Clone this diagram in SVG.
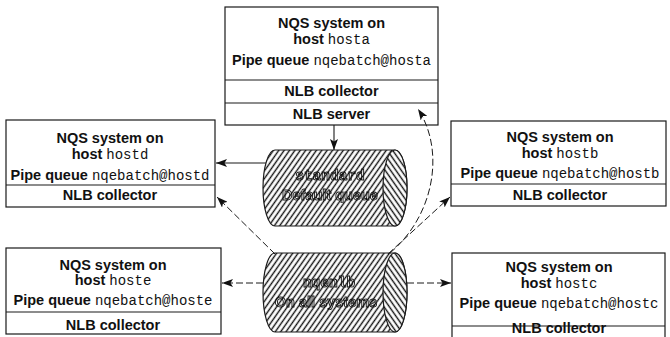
<svg xmlns="http://www.w3.org/2000/svg" width="670" height="337" viewBox="0 0 670 337">
  <style>
    .box { fill: #fff; stroke: #1a1a1a; stroke-width: 1.2; }
    .sep { stroke: #1a1a1a; stroke-width: 1.2; }
    .t { font-family: "Liberation Sans", Arial, sans-serif; font-weight: bold; font-size: 14.5px; fill: #111; text-anchor: middle; }
    .m { font-family: "Liberation Mono", "Courier New", monospace; font-weight: normal; font-size: 14px; }
    .q { font-size: 14.5px; fill: url(#hatchBody); stroke: #111; stroke-width: 0.9; text-anchor: middle; }
    .qs { font-family: "Liberation Sans", Arial, sans-serif; font-weight: bold; }
    .qm { font-family: "Liberation Mono", "Courier New", monospace; font-weight: bold; }
    .cyl { stroke: #1a1a1a; stroke-width: 1.2; }
    .solid { fill: none; stroke: #1a1a1a; stroke-width: 1.1; marker-end: url(#arrow); }
    .dash { fill: none; stroke: #1a1a1a; stroke-width: 1; stroke-dasharray: 7 3; marker-end: url(#arrow); }
  </style>
  <defs>
    <pattern id="hatchBody" width="4.4" height="10" patternUnits="userSpaceOnUse" patternTransform="rotate(35)">
      <rect width="4.4" height="10" fill="#fff"/>
      <line x1="2.2" y1="0" x2="2.2" y2="10" stroke="#111" stroke-width="1.4"/>
    </pattern>
    <pattern id="hatchCap" width="4.4" height="10" patternUnits="userSpaceOnUse" patternTransform="rotate(-35)">
      <rect width="4.4" height="10" fill="#fff"/>
      <line x1="2.2" y1="0" x2="2.2" y2="10" stroke="#111" stroke-width="1.4"/>
    </pattern>
    <!-- renders the outlined queue labels offscreen so they keep grey antialiasing -->
    <filter id="flat" x="0" y="0" width="1" height="1">
      <feOffset dx="0" dy="0"/>
    </filter>
    <marker id="arrow" markerWidth="12" markerHeight="8" refX="11" refY="4" orient="auto" markerUnits="userSpaceOnUse">
      <path d="M0,0 L11,4 L0,8 L2.5,4 Z" fill="#111"/>
    </marker>
  </defs>

  <!-- host a: NQS system with NLB collector and NLB server -->
  <g id="hosta">
    <rect class="box" x="225" y="7" width="213" height="118"/>
    <line class="sep" x1="225" y1="80" x2="438" y2="80"/>
    <line class="sep" x1="225" y1="103" x2="438" y2="103"/>
    <text class="t" x="331.5" y="28">NQS system on</text>
    <text class="t" x="331.5" y="44">host <tspan class="m">hosta</tspan></text>
    <text class="t" x="331.5" y="65">Pipe queue <tspan class="m">nqebatch@hosta</tspan></text>
    <text class="t" x="331.5" y="96">NLB collector</text>
    <text class="t" x="331.5" y="119">NLB server</text>
  </g>

  <!-- host d -->
  <g id="hostd">
    <rect class="box" x="6" y="120" width="209" height="87"/>
    <line class="sep" x1="6" y1="185" x2="215" y2="185"/>
    <text class="t" x="110" y="143">NQS system on</text>
    <text class="t" x="110" y="159">host <tspan class="m">hostd</tspan></text>
    <text class="t" x="110" y="180">Pipe queue <tspan class="m">nqebatch@hostd</tspan></text>
    <text class="t" x="110" y="200">NLB collector</text>
  </g>

  <!-- host b -->
  <g id="hostb">
    <rect class="box" x="451" y="121" width="215" height="85"/>
    <line class="sep" x1="451" y1="184" x2="666" y2="184"/>
    <text class="t" x="560" y="142">NQS system on</text>
    <text class="t" x="560" y="158">host <tspan class="m">hostb</tspan></text>
    <text class="t" x="560" y="178">Pipe queue <tspan class="m">nqebatch@hostb</tspan></text>
    <text class="t" x="560" y="200">NLB collector</text>
  </g>

  <!-- host e -->
  <g id="hoste">
    <rect class="box" x="6" y="248" width="215" height="86"/>
    <line class="sep" x1="6" y1="312" x2="221" y2="312"/>
    <text class="t" x="113" y="270">NQS system on</text>
    <text class="t" x="113" y="285">host <tspan class="m">hoste</tspan></text>
    <text class="t" x="113" y="305">Pipe queue <tspan class="m">nqebatch@hoste</tspan></text>
    <text class="t" x="113" y="330">NLB collector</text>
  </g>

  <!-- host c (runs off the bottom edge) -->
  <g id="hostc">
    <rect class="box" x="452" y="253" width="213" height="90"/>
    <line class="sep" x1="452" y1="326" x2="665" y2="326"/>
    <text class="t" x="559" y="272">NQS system on</text>
    <text class="t" x="559" y="288">host <tspan class="m">hostc</tspan></text>
    <text class="t" x="559" y="308">Pipe queue <tspan class="m">nqebatch@hostc</tspan></text>
    <text class="t" x="559" y="333">NLB collector</text>
  </g>

  <!-- queue: standard -->
  <g id="standard">
    <path class="cyl" fill="url(#hatchBody)" d="M275,150 L395,150 A12,38 0 0 1 395,226 L275,226 A12,38 0 0 1 275,150 Z"/>
    <ellipse class="cyl" fill="url(#hatchCap)" cx="395" cy="188" rx="12" ry="38"/>
    <g filter="url(#flat)">
      <text class="q qm" x="330" y="180">standard</text>
      <text class="q qs" x="330" y="200">Default queue</text>
    </g>
  </g>

  <!-- queue: nqenlb -->
  <g id="nqenlb">
    <path class="cyl" fill="url(#hatchBody)" d="M275,253 L395,253 A12,39.5 0 0 1 395,332 L275,332 A12,39.5 0 0 1 275,253 Z"/>
    <ellipse class="cyl" fill="url(#hatchCap)" cx="395" cy="292.5" rx="12" ry="39.5"/>
    <g filter="url(#flat)">
      <text class="q qm" x="329" y="287">nqenlb</text>
      <text class="q qs" x="326" y="307">On all systems</text>
    </g>
  </g>

  <g id="connectors">
    <line class="solid" x1="334" y1="125" x2="334" y2="150"/>
    <line class="solid" x1="266" y1="163" x2="216" y2="163"/>
    <line class="dash" x1="275" y1="254" x2="217" y2="197"/>
    <line class="dash" x1="263" y1="283" x2="222" y2="283"/>
    <line class="dash" x1="407" y1="283" x2="451" y2="283"/>
    <line class="dash" x1="388" y1="254" x2="450" y2="197"/>
    <path class="dash" d="M390,253 C435,215 445,150 418,109"/>
  </g>
</svg>
